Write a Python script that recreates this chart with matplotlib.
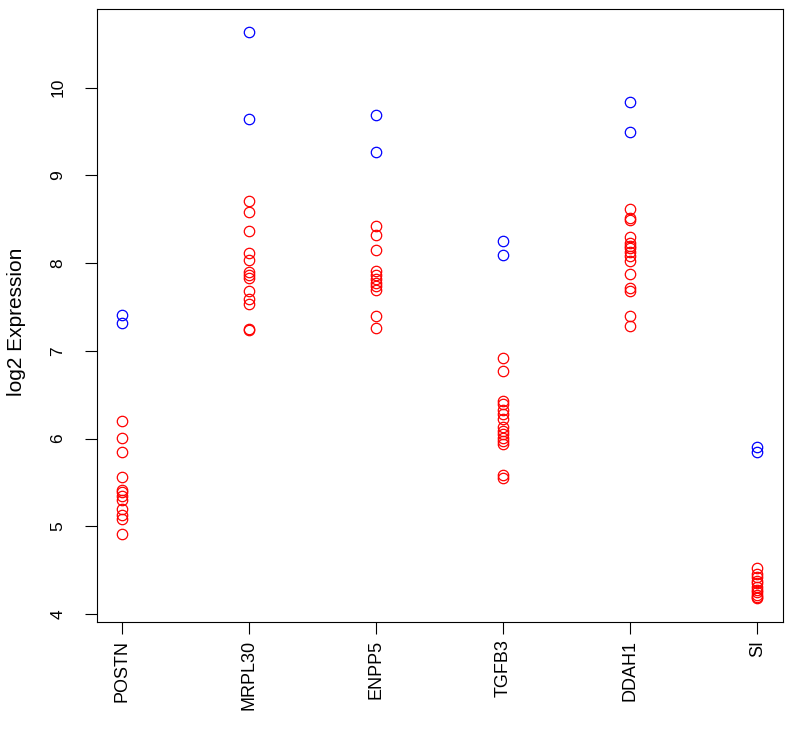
import matplotlib.pyplot as plt
import numpy as np

plt.rcParams['font.family'] = ['Liberation Sans', 'DejaVu Sans']

genes = ['POSTN', 'MRPL30', 'ENPP5', 'TGFB3', 'DDAH1', 'SI']

# two high samples per gene (blue)
blue_vals = [
    [7.41, 7.32],
    [10.64, 9.64],
    [9.69, 9.27],
    [8.25, 8.09],
    [9.84, 9.49],
    [5.91, 5.85],
]

# remaining samples per gene (red)
red_vals = [
    [6.20, 6.01, 5.85, 5.56, 5.42, 5.39, 5.35, 5.30, 5.20, 5.13, 5.09, 4.91],
    [8.71, 8.58, 8.37, 8.12, 8.04, 7.90, 7.86, 7.83, 7.68, 7.59, 7.53, 7.25, 7.24],
    [8.42, 8.32, 8.15, 7.91, 7.86, 7.82, 7.78, 7.74, 7.70, 7.40, 7.26],
    [6.92, 6.77, 6.43, 6.39, 6.33, 6.28, 6.22, 6.13, 6.09, 6.05, 6.01, 5.97, 5.94, 5.59, 5.55],
    [8.62, 8.51, 8.49, 8.30, 8.23, 8.20, 8.17, 8.13, 8.08, 8.03, 7.88, 7.72, 7.68, 7.40, 7.28],
    [4.53, 4.46, 4.42, 4.38, 4.35, 4.31, 4.28, 4.25, 4.22, 4.20, 4.18],
]

fig = plt.figure(figsize=(7.94, 7.33), dpi=100)
ax = fig.add_axes([0.122, 0.1514, 0.864, 0.8366])

for i in range(len(genes)):
    xr = np.full(len(red_vals[i]), i + 1)
    ax.plot(xr, red_vals[i], 'o', mfc='none', mec='red', ms=7.5, mew=0.9)
    xb = np.full(len(blue_vals[i]), i + 1)
    ax.plot(xb, blue_vals[i], 'o', mfc='none', mec='blue', ms=7.5, mew=0.9)

ax.set_xlim(0.8, 6.2)
ax.set_ylim(3.91, 10.9)
ax.set_xticks(range(1, len(genes) + 1))
ax.set_xticklabels(genes, rotation=90, fontsize=13)
ax.set_yticks(range(4, 11))
ax.set_yticklabels([str(v) for v in range(4, 11)], rotation=90, va='center', fontsize=12.5)
ax.tick_params(direction='out', length=8.6, width=0.8)
ax.tick_params(axis='x', pad=4)
ax.tick_params(axis='y', pad=14)
ax.set_ylabel('log2 Expression', fontsize=15)
ax.yaxis.set_label_coords(-0.103, 0.489)

for s in ax.spines.values():
    s.set_linewidth(0.8)

plt.savefig('out.png')
